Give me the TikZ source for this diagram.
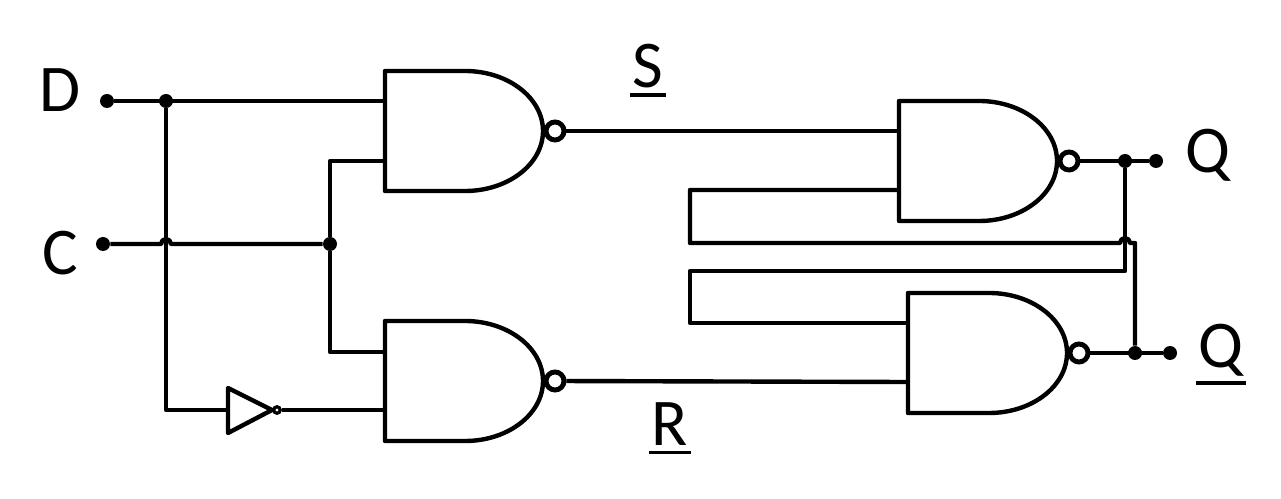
\documentclass[tikz,border=0pt]{standalone}
\usepackage{fontspec}
\setmainfont{Carlito}

\newcommand{\barred}[1]{\vtop{\hbox{\kern1.5pt #1\kern1.5pt}\kern2.6pt\hrule height 2.2pt}}

\tikzset{
    wire/.style={line width=2.5pt, line join=round},
    dotnode/.style={circle, fill=black, inner sep=0pt, minimum size=0.28cm},
    bubble/.style={circle, draw, line width=2.8pt, fill=white, inner sep=0pt, minimum size=0.36cm},
    smallbubble/.style={circle, draw, line width=1.8pt, fill=white, inner sep=0pt, minimum size=0.13cm},
    label/.style={inner sep=0pt, font=\fontsize{38}{38}\selectfont}
}

\begin{document}
\begin{tikzpicture}[x=0.02cm, y=-0.02cm]
    \useasboundingbox (0,0) rectangle (1281,499);

    % Draw the four gates, each one with its input points and its output bubble
    \foreach \name/\x/\y/\w/\ina/\inb in {gateS/385/71/80/30/90, gateR/385/321/80/31/89, gateQ/899/101/80/30/89, gateN/908/293/81/30/89}
    {
        \begin{scope}[shift={(\x,\y)}]
            \draw[wire] (\w,0) -- (0,0) -- (0,120) -- (\w,120)
                arc[start angle=90, end angle=-90, x radius=78, y radius=60];
            \node[bubble] (\name-o) at (\w+90,60) {};
            \coordinate (\name-a) at (0,\ina);
            \coordinate (\name-b) at (0,\inb);
        \end{scope}
    }

    % Draw the inverter
    \coordinate (invin) at (228,410);
    \draw[wire] (228,388) -- (272,410) -- (228,433) -- cycle;
    \node[smallbubble] (invo) at (277,410) {};

    % Draw the terminals and the junctions
    \node[dotnode] (D) at (107,101) {};
    \node[dotnode] (C) at (103,244) {};
    \node[dotnode] (Dj) at (166,101) {};
    \node[dotnode] (Cj) at (330,244) {};
    \node[dotnode] (Q) at (1156,161) {};
    \node[dotnode] (Qj) at (1125,161) {};
    \node[dotnode] (N) at (1170,353) {};
    \node[dotnode] (Nj) at (1135,353) {};

    % Draw the wires on the input side
    \draw[wire] (D) -- (gateS-a);
    \coordinate (Dc) at (166,410);
    \draw[wire] (Dj) -- (Dc) -- (invin);
    \draw[wire] (invo) -- (invo -| gateR-b);
    \coordinate (hopCl) at (161,244);
    \draw[wire] (C) -- (hopCl) arc[start angle=180, end angle=360, radius=5] -- (Cj);
    \draw[wire] (gateS-b) -| (Cj);
    \draw[wire] (gateR-a) -| (Cj);

    % Draw the wires from the first gates to the latch
    \draw[wire] (gateS-o) -- (gateQ-a);
    \draw[wire] (gateR-o) -- (gateN-b);

    % Draw the outputs and the cross coupling
    \draw[wire] (gateQ-o) -- (Q);
    \draw[wire] (gateN-o) -- (N);
    \coordinate (crossQl) at (690,243);
    \coordinate (crossNl) at (690,271);
    \coordinate (hopQl) at (1120,243);
    \coordinate (crossQr) at (1135,243);
    \coordinate (crossNr) at (1125,271);
    \draw[wire] (gateQ-b) -| (crossQl) -- (hopQl)
        arc[start angle=180, end angle=360, radius=5] -- (crossQr) -- (Nj);
    \draw[wire] (gateN-a) -| (crossNl) -- (crossNr) -- (Qj);

    % Finally the labels
    \node[label] (Dlabel) at (60,90) {D};
    \node[label] (Clabel) at (60,253) {C};
    \node[label, anchor=base] (Slabel) at (648,88) {\barred{S}};
    \node[label, anchor=base] (Rlabel) at (670,446) {\barred{R}};
    \node[label] (Qlabel) at (1208,155) {Q};
    \node[label, anchor=base] (Nlabel) at (1221,368) {\barred{Q}};
\end{tikzpicture}
\end{document}
